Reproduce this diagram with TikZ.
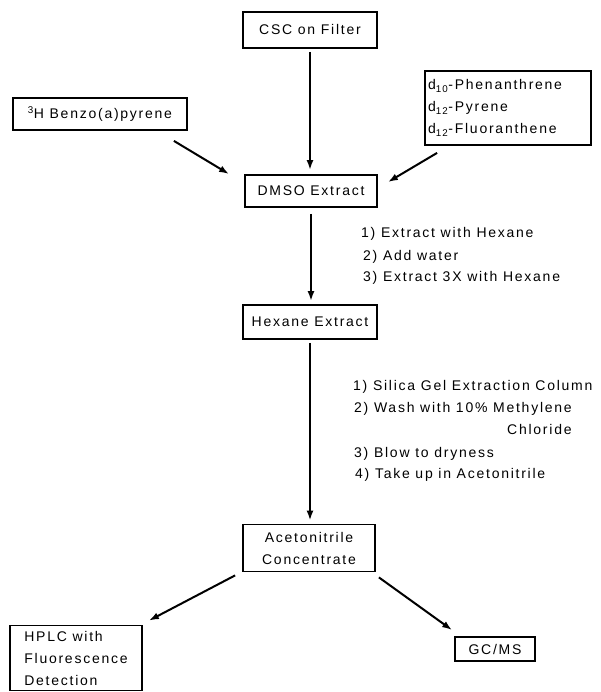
\documentclass[tikz,border=0pt]{standalone}
\usepackage{fontspec}
\setmainfont{Liberation Sans}[LetterSpace=12.5]
\usetikzlibrary{arrows.meta,calc}
\begin{document}
\begin{tikzpicture}[x=1pt,y=-1pt,
  every node/.style={font=\fontsize{14}{22}\selectfont},
  box/.style={draw,line width=1.8pt,inner sep=0pt,align=center},
  note/.style={anchor=mid west,inner sep=0pt},
  arr/.style={line width=2pt,-{Latex[length=10pt,width=7pt]}}]
\useasboundingbox (0,0) rectangle (600,692);
% boxes
\node[box,minimum width=134,minimum height=36] (csc) at (310,30) {CSC on Filter};
\node[box,minimum width=174,minimum height=32] (benzo) at (100,114) {\textsuperscript{3}H Benzo(a)pyrene};
\node[box,minimum width=166,minimum height=74,text width=160,inner xsep=3pt,align=left] (deut) at (508,108)
  {d\textsubscript{10}-Phenanthrene\\d\textsubscript{12}-Pyrene\\d\textsubscript{12}-Fluoranthene};
\node[box,minimum width=132,minimum height=32] (dmso) at (311,191) {DMSO Extract};
\node[box,minimum width=134,minimum height=34] (hex) at (310,322) {Hexane Extract};
\node[box,minimum width=132,minimum height=47] (acn) at (309,548) {Acetonitrile\\Concentrate};
\node[box,minimum width=132,minimum height=65,align=left] (hplc) at (76,658) {HPLC with\\Fluorescence\\Detection};
\node[box,minimum width=80,minimum height=24] (gcms) at (495,649) {GC/MS};
% step notes
\node[note] (s1) at (361,235) {1) Extract with Hexane};
\node[note] (s2) at (363,258) {2) Add water};
\node[note] (s3) at (363,279) {3) Extract 3X with Hexane};
\node[note] (t1) at (353,388) {1) Silica Gel Extraction Column};
\node[note] (t2) at (354,410) {2) Wash with 10\% Methylene};
\node[note] (t2b) at (507,432) {Chloride};
\node[note] (t3) at (354,455) {3) Blow to dryness};
\node[note] (t4) at (355,476) {4) Take up in Acetonitrile};
% connectors
\draw[arr,shorten <=3pt,shorten >=4pt] (csc.south) -- (csc.south |- dmso.north);
\draw[arr,shorten <=6pt,shorten >=3pt] (dmso.south) -- (dmso.south |- hex.north);
\draw[arr,shorten <=3pt,shorten >=3pt] (hex.south) -- (hex.south |- acn.north);
\draw[arr] ($(benzo.south east)+(-14,10)$) -- ($(dmso.north west)+(-15,0)$);
\draw[arr] ($(deut.south west)+(13,7)$) -- ($(dmso.north east)+(10,8)$);
\draw[arr] ($(acn.south west)+(-7,3)$) -- ($(hplc.north east)+(6,-4)$);
\draw[arr] ($(acn.south east)+(3,5)$) -- ($(gcms.north west)+(-2,-6)$);
\end{tikzpicture}
\end{document}
